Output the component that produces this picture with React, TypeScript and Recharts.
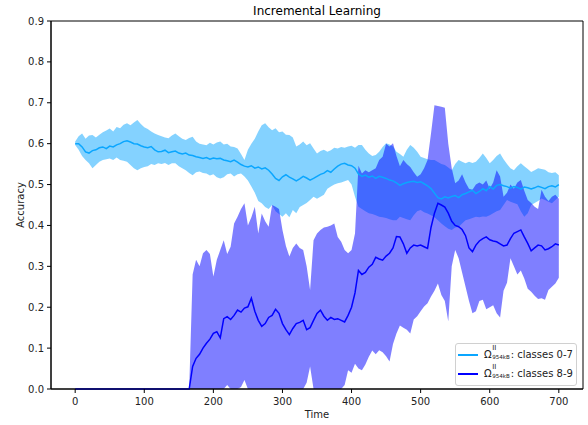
import React from "react";
import { ComposedChart, Area, Line, XAxis, YAxis, ReferenceArea } from "recharts";

// time steps, every 5 units from 0 to 700
const time = Array.from({ length: 141 }, (_, i) => i * 5);

// classes 0-7: mean accuracy and spread
const oldMean = [
  0.600, 0.600, 0.592, 0.580, 0.577, 0.583, 0.585, 0.590, 0.592, 0.588,
  0.594, 0.592, 0.597, 0.600, 0.605, 0.607, 0.604, 0.600, 0.599, 0.595,
  0.592, 0.590, 0.593, 0.585, 0.580, 0.581, 0.584, 0.578, 0.580, 0.582,
  0.577, 0.575, 0.577, 0.572, 0.571, 0.568, 0.566, 0.564, 0.566, 0.562,
  0.565, 0.563, 0.564, 0.560, 0.558, 0.556, 0.560, 0.555, 0.549, 0.545,
  0.543, 0.546, 0.540, 0.543, 0.538, 0.541, 0.535, 0.526, 0.515, 0.510,
  0.519, 0.524, 0.518, 0.514, 0.509, 0.514, 0.520, 0.516, 0.511, 0.515,
  0.520, 0.525, 0.528, 0.534, 0.530, 0.538, 0.545, 0.550, 0.552, 0.548,
  0.546, 0.540, 0.526, 0.520, 0.523, 0.518, 0.521, 0.515, 0.520, 0.518,
  0.515, 0.511, 0.509, 0.504, 0.498, 0.502, 0.505, 0.507, 0.508, 0.505,
  0.507, 0.502, 0.497, 0.490, 0.479, 0.468, 0.465, 0.470, 0.467, 0.471,
  0.473, 0.468, 0.475, 0.478, 0.482, 0.486, 0.478, 0.483, 0.490, 0.485,
  0.495, 0.489, 0.498, 0.500, 0.497, 0.495, 0.491, 0.495, 0.493, 0.489,
  0.494, 0.492, 0.489, 0.492, 0.496, 0.493, 0.490, 0.495, 0.497, 0.494,
  0.500,
];
const oldHigh = [
  0.605, 0.618, 0.625, 0.612, 0.620, 0.621, 0.615, 0.622, 0.628, 0.632,
  0.637, 0.630, 0.641, 0.638, 0.646, 0.650, 0.645, 0.652, 0.658, 0.648,
  0.640, 0.636, 0.630, 0.625, 0.621, 0.618, 0.615, 0.613, 0.620, 0.625,
  0.618, 0.612, 0.609, 0.614, 0.617, 0.605, 0.600, 0.598, 0.596, 0.602,
  0.598, 0.603, 0.605, 0.598, 0.600, 0.593, 0.592, 0.588, 0.575, 0.560,
  0.585, 0.600, 0.612, 0.630, 0.645, 0.650, 0.640, 0.633, 0.638, 0.628,
  0.630, 0.622, 0.621, 0.615, 0.593, 0.598, 0.605, 0.596, 0.601, 0.588,
  0.576, 0.582, 0.585, 0.580, 0.584, 0.590, 0.588, 0.592, 0.590, 0.593,
  0.595, 0.590, 0.597, 0.597, 0.585, 0.576, 0.570, 0.572, 0.580, 0.592,
  0.601, 0.598, 0.593, 0.580, 0.575, 0.568, 0.585, 0.597, 0.590, 0.580,
  0.568, 0.565, 0.562, 0.560, 0.560, 0.555, 0.550, 0.548, 0.542, 0.535,
  0.550, 0.560, 0.556, 0.552, 0.556, 0.553, 0.556, 0.565, 0.576, 0.565,
  0.552, 0.560, 0.570, 0.576, 0.562, 0.550, 0.540, 0.535, 0.545, 0.552,
  0.545, 0.538, 0.531, 0.535, 0.540, 0.538, 0.536, 0.530, 0.528, 0.530,
  0.523,
];
const oldLow = [
  0.597, 0.585, 0.570, 0.560, 0.552, 0.540, 0.548, 0.556, 0.560, 0.562,
  0.564, 0.560, 0.566, 0.560, 0.558, 0.556, 0.548, 0.540, 0.535, 0.540,
  0.543, 0.545, 0.550, 0.548, 0.552, 0.550, 0.553, 0.548, 0.552, 0.552,
  0.545, 0.540, 0.535, 0.528, 0.523, 0.530, 0.532, 0.528, 0.527, 0.522,
  0.525, 0.518, 0.515, 0.518, 0.525, 0.527, 0.520, 0.525, 0.527, 0.520,
  0.510, 0.495, 0.480, 0.460, 0.454, 0.445, 0.440, 0.450, 0.435, 0.428,
  0.421, 0.430, 0.420, 0.438, 0.430, 0.445, 0.450, 0.455, 0.462, 0.470,
  0.465, 0.470, 0.475, 0.490, 0.495, 0.500, 0.503, 0.505, 0.508, 0.511,
  0.500, 0.470, 0.446, 0.440, 0.435, 0.430, 0.428, 0.425, 0.421, 0.420,
  0.418, 0.415, 0.413, 0.413, 0.421, 0.418, 0.415, 0.413, 0.425, 0.435,
  0.438, 0.432, 0.429, 0.425, 0.420, 0.413, 0.405, 0.398, 0.392, 0.389,
  0.395, 0.397, 0.405, 0.413, 0.415, 0.418, 0.421, 0.420, 0.422, 0.421,
  0.425, 0.430, 0.435, 0.438, 0.450, 0.462, 0.458, 0.455, 0.452, 0.435,
  0.421, 0.430, 0.450, 0.455, 0.460, 0.466, 0.462, 0.458, 0.454, 0.462,
  0.470,
];

// classes 8-9: flat at zero until they are introduced at t = 170
const newMean = [
  0, 0, 0, 0, 0, 0, 0, 0, 0, 0,
  0, 0, 0, 0, 0, 0, 0, 0, 0, 0,
  0, 0, 0, 0, 0, 0, 0, 0, 0, 0,
  0, 0, 0, 0,
  0.055, 0.075, 0.085, 0.100, 0.112, 0.122, 0.136, 0.140, 0.125, 0.172,
  0.177, 0.170, 0.180, 0.193, 0.188, 0.198, 0.201, 0.222, 0.190, 0.168,
  0.153, 0.160, 0.175, 0.180, 0.195, 0.185, 0.160, 0.145, 0.133, 0.148,
  0.160, 0.163, 0.168, 0.145, 0.150, 0.168, 0.185, 0.193, 0.178, 0.168,
  0.175, 0.170, 0.172, 0.168, 0.164, 0.180, 0.200, 0.235, 0.290, 0.280,
  0.285, 0.298, 0.305, 0.322, 0.318, 0.315, 0.325, 0.332, 0.345, 0.373,
  0.372, 0.355, 0.332, 0.345, 0.352, 0.350, 0.352, 0.348, 0.344, 0.395,
  0.430, 0.454, 0.450, 0.445, 0.430, 0.410, 0.400, 0.397, 0.390, 0.375,
  0.345, 0.336, 0.352, 0.362, 0.368, 0.372, 0.365, 0.362, 0.360, 0.355,
  0.350, 0.352, 0.368, 0.381, 0.385, 0.389, 0.372, 0.356, 0.338, 0.345,
  0.352, 0.350, 0.340, 0.343, 0.348, 0.355, 0.352,
];
const newHigh = [
  0, 0, 0, 0, 0, 0, 0, 0, 0, 0,
  0, 0, 0, 0, 0, 0, 0, 0, 0, 0,
  0, 0, 0, 0, 0, 0, 0, 0, 0, 0,
  0, 0, 0, 0,
  0.280, 0.316, 0.300, 0.332, 0.340, 0.330, 0.275, 0.316, 0.340, 0.364,
  0.330, 0.348, 0.405, 0.421, 0.440, 0.454, 0.400, 0.420, 0.446, 0.380,
  0.429, 0.410, 0.397, 0.450, 0.446, 0.440, 0.389, 0.350, 0.324, 0.345,
  0.356, 0.345, 0.340, 0.300, 0.242, 0.364, 0.380, 0.389, 0.395, 0.397,
  0.400, 0.405, 0.372, 0.360, 0.340, 0.332, 0.340, 0.380, 0.546, 0.527,
  0.535, 0.530, 0.535, 0.540, 0.560, 0.568, 0.600, 0.593, 0.601, 0.570,
  0.545, 0.560, 0.550, 0.543, 0.530, 0.519, 0.525, 0.540, 0.560, 0.625,
  0.694, 0.692, 0.690, 0.688, 0.600, 0.540, 0.503, 0.510, 0.525, 0.505,
  0.490, 0.487, 0.500, 0.505, 0.500, 0.510, 0.490, 0.505, 0.535, 0.520,
  0.470, 0.480, 0.500, 0.490, 0.505, 0.511, 0.485, 0.462, 0.455, 0.446,
  0.440, 0.487, 0.470, 0.460, 0.470, 0.475, 0.465,
];
const newLow = [
  0, 0, 0, 0, 0, 0, 0, 0, 0, 0,
  0, 0, 0, 0, 0, 0, 0, 0, 0, 0,
  0, 0, 0, 0, 0, 0, 0, 0, 0, 0,
  0, 0, 0, 0,
  0, 0, 0, 0, 0, 0, 0, 0, 0, 0,
  0.010, 0, 0, 0, 0.005, 0.022, 0, 0, 0, 0,
  0, 0, 0, 0, 0, 0, 0, 0, 0, 0,
  0, 0, 0, 0.015, 0.055, 0, 0, 0, 0, 0,
  0, 0, 0, 0, 0.010, 0.046, 0.040, 0.062, 0.050, 0.046,
  0.060, 0.079, 0.094, 0.085, 0.095, 0.090, 0.080, 0.067, 0.110, 0.136,
  0.155, 0.150, 0.145, 0.136, 0.170, 0.178, 0.190, 0.202, 0.210, 0.226,
  0.240, 0.258, 0.230, 0.215, 0.165, 0.300, 0.340, 0.320, 0.285, 0.250,
  0.215, 0.185, 0.190, 0.215, 0.218, 0.195, 0.200, 0.205, 0.185, 0.175,
  0.240, 0.260, 0.320, 0.300, 0.280, 0.290, 0.270, 0.245, 0.238, 0.228,
  0.220, 0.222, 0.218, 0.242, 0.250, 0.258, 0.272,
];

const xTicks = [0, 100, 200, 300, 400, 500, 600, 700];
const yTicks = [0, 0.1, 0.2, 0.3, 0.4, 0.5, 0.6, 0.7, 0.8, 0.9];

const OLD_COLOR = "#0aa6ff";
const NEW_COLOR = "#0000ff";
const FONT = "'DejaVu Sans', sans-serif";

const rows = time.map((t, i) => ({
  t,
  oldMean: oldMean[i],
  oldBand: [oldLow[i], oldHigh[i]],
  newMean: newMean[i],
  newBand: [newLow[i], newHigh[i]],
}));

// Ω with a stacked superscript / subscript, then the rest of the label
function LegendLabel({ text }: { text: string }) {
  return (
    <span style={{ whiteSpace: "nowrap" }}>
      Ω
      <span style={{ position: "relative", display: "inline-block", width: 19, height: 10 }}>
        <span style={{ position: "absolute", left: 0.5, top: -4, fontSize: 7, lineHeight: "8px" }}>II</span>
        <span style={{ position: "absolute", left: 0.5, top: 5, fontSize: 5.6, lineHeight: "8px" }}>954kB</span>
      </span>
      {text}
    </span>
  );
}

const legendItems = [
  { color: OLD_COLOR, text: ": classes 0-7" },
  { color: NEW_COLOR, text: ": classes 8-9" },
];

export default function App() {
  const tickStyle = { fontSize: 10, fill: "#222", fontFamily: FONT };
  return (
    <div style={{ position: "absolute", left: 0, top: 0, width: 588, height: 425, background: "#fff", fontFamily: FONT }}>
      <ComposedChart width={588} height={425} data={rows} margin={{ top: 21, right: 5, bottom: 0, left: 0 }}>
        <XAxis
          dataKey="t"
          type="number"
          domain={[-35, 735]}
          ticks={xTicks}
          interval={0}
          height={36}
          tickSize={4}
          tickMargin={5}
          tick={tickStyle}
          axisLine={{ stroke: "#000" }}
          tickLine={{ stroke: "#000" }}
          label={{ value: "Time", position: "insideBottom", offset: 7, fontSize: 10, fill: "#222", fontFamily: FONT }}
        />
        <YAxis
          type="number"
          domain={[0, 0.9]}
          ticks={yTicks}
          interval={0}
          width={51}
          tickSize={4}
          tickMargin={3}
          tick={tickStyle}
          tickFormatter={(v: number) => v.toFixed(1)}
          axisLine={{ stroke: "#000" }}
          tickLine={{ stroke: "#000" }}
          label={{ value: "Accuracy", angle: -90, position: "insideLeft", offset: 20, fontSize: 10, fill: "#222", fontFamily: FONT, style: { textAnchor: "middle" } }}
        />
        <Area
          type="linear"
          dataKey="oldBand"
          stroke="none"
          fill={OLD_COLOR}
          fillOpacity={0.5}
          dot={false}
          activeDot={false}
          isAnimationActive={false}
        />
        <Area
          type="linear"
          dataKey="newBand"
          stroke="none"
          fill={NEW_COLOR}
          fillOpacity={0.5}
          dot={false}
          activeDot={false}
          isAnimationActive={false}
        />
        <Line type="linear" dataKey="oldMean" stroke={OLD_COLOR} strokeWidth={1.5} dot={false} activeDot={false} isAnimationActive={false} />
        <Line type="linear" dataKey="newMean" stroke={NEW_COLOR} strokeWidth={1.5} dot={false} activeDot={false} isAnimationActive={false} />
        <ReferenceArea x1={-35} x2={735} y1={0} y2={0.9} fill="none" stroke="#000" strokeWidth={1} fillOpacity={0} />
        <text x={317} y={15} textAnchor="middle" fontSize={12} fontFamily={FONT} fill="#000">
          Incremental Learning
        </text>
      </ComposedChart>
      <div
        style={{
          position: "absolute",
          left: 455,
          top: 343,
          width: 122,
          height: 43,
          boxSizing: "border-box",
          background: "rgba(255,255,255,0.8)",
          border: "1px solid #d0d0d0",
          borderRadius: 3,
          fontSize: 10,
          color: "#222",
        }}
      >
        {legendItems.map((item, i) => (
          <div key={i} style={{ position: "absolute", left: 0, top: 4 + i * 19, height: 14, width: "100%" }}>
            <div style={{ position: "absolute", left: 2, top: 6, width: 20, height: 1.5, background: item.color }} />
            <div style={{ position: "absolute", left: 28, top: 0, lineHeight: "14px" }}>
              <LegendLabel text={item.text} />
            </div>
          </div>
        ))}
      </div>
    </div>
  );
}
